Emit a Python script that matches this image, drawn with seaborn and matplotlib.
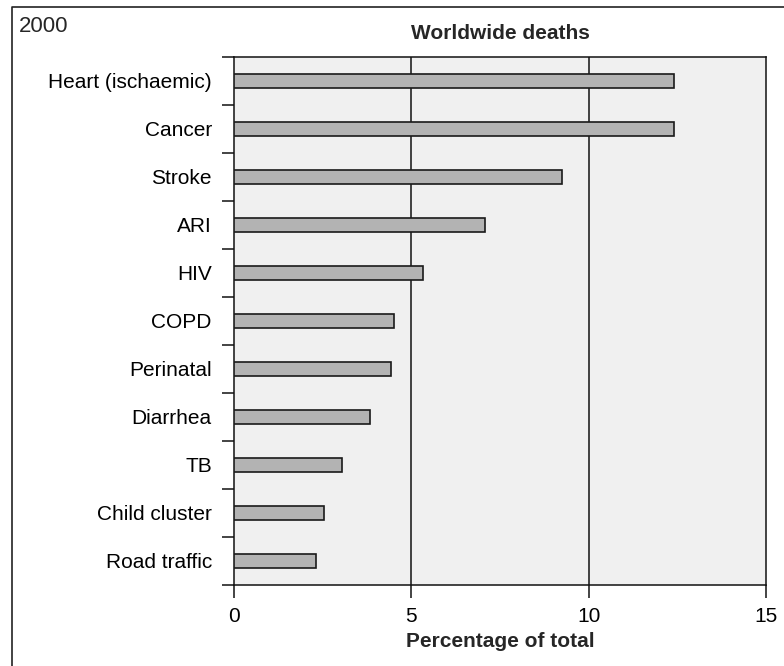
import matplotlib
matplotlib.use("Agg")
import matplotlib.pyplot as plt
from matplotlib.lines import Line2D
import seaborn as sns
import pandas as pd
import numpy as np

categories = ["Heart (ischaemic)", "Cancer", "Stroke", "ARI", "HIV", "COPD",
              "Perinatal", "Diarrhea", "TB", "Child cluster", "Road traffic"]
values = [12.4, 12.4, 9.24, 7.07, 5.33, 4.50, 4.43, 3.83, 3.04, 2.53, 2.30]
xticks = [0, 5, 10, 15]

sns.set_theme(style="white")
plt.rcParams['font.family'] = ['Liberation Sans', 'DejaVu Sans']

df = pd.DataFrame({"cause": categories, "pct": values})

fig = plt.figure(figsize=(7.84, 6.66), dpi=100)
ax = fig.add_axes([234/784, 1-585/666, (766-234)/784, (585-57)/666])
ax.set_facecolor("#f0f0f0")

sns.barplot(data=df, x="pct", y="cause", orient="h", order=categories,
            color="#b3b3b3", edgecolor="#1a1a1a", linewidth=1.2,
            width=0.3, saturation=1, ax=ax, zorder=3)

ax.set_xlim(0, 15)
ax.set_ylim(len(categories) - 0.5, -0.5)
ax.set_xticks(xticks)
ax.set_xticklabels([str(t) for t in xticks], fontsize=15)
for t in [5, 10]:
    ax.axvline(t, color="#111111", lw=1.1, zorder=1)

ax.set_yticks(np.arange(len(categories)))
ax.set_yticklabels(categories, fontsize=15)
ax.set_yticks(np.arange(len(categories) + 1) - 0.5, minor=True)
ax.tick_params(axis="y", which="major", length=0, pad=16)
ax.tick_params(axis="y", which="minor", length=9, width=1.1, color="#111111", direction="out", left=True)
ax.tick_params(axis="x", which="major", length=9, width=1.1, color="#111111", direction="out", bottom=True, pad=6.5)
ax.tick_params(colors="#111111", labelcolor="black")

for s in ax.spines.values():
    s.set_color("#111111")
    s.set_linewidth(1.1)
    s.set_visible(True)

ax.set_ylabel("")
ax.set_xlabel("Percentage of total", fontsize=15, fontweight="bold", labelpad=5)
ax.set_title("Worldwide deaths", fontsize=15, fontweight="bold", pad=13)

fig.text(19/784, 1-32/666, "2000", fontsize=16, va="baseline", ha="left")
fig.lines.append(Line2D([12/784, 12/784, 1.0], [0.0, 1-7/666, 1-7/666],
                        transform=fig.transFigure, color="#222222", lw=1.2))

fig.savefig("out.png", dpi=100)
